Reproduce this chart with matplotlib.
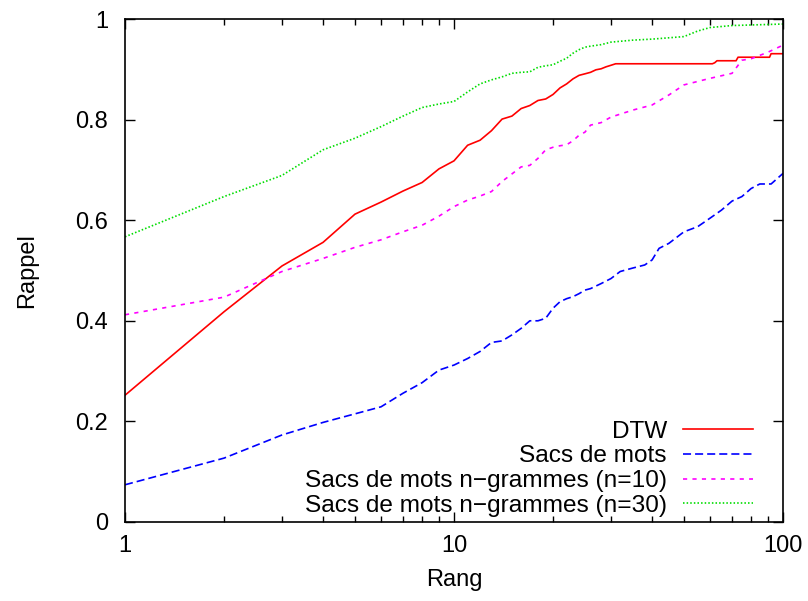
import matplotlib
matplotlib.use("Agg")
import matplotlib.pyplot as plt
from matplotlib.ticker import FixedLocator, LogLocator, NullFormatter

plt.rcParams['font.family'] = ['Liberation Sans', 'DejaVu Sans']
plt.rcParams['lines.scale_dashes'] = False

# DTW
dtw_rank = [1, 2, 3, 4, 5, 6, 7, 8, 9, 10, 11, 12, 13, 14, 15, 16, 17, 18, 19, 20,
            21, 22, 23, 24, 25, 26, 27, 28, 29, 30, 31, 61, 62, 63, 72, 73, 91, 92, 100]
dtw_val = [0.252, 0.418, 0.509, 0.556, 0.612, 0.636, 0.658, 0.675, 0.702, 0.718,
           0.749, 0.759, 0.778, 0.801, 0.807, 0.822, 0.828, 0.838, 0.841, 0.850,
           0.863, 0.871, 0.881, 0.888, 0.891, 0.894, 0.899, 0.901, 0.905, 0.908,
           0.911, 0.911, 0.913, 0.917, 0.917, 0.924, 0.924, 0.931, 0.931]

# Sacs de mots
bow_rank = [1, 2, 3, 4, 5, 6, 7, 8, 9, 10, 11, 12, 13, 14, 15, 16, 17, 18, 19, 20,
            21, 22, 23, 24, 25, 26, 28, 30, 32, 35, 38, 40, 42, 45, 50, 55, 60, 65,
            70, 75, 80, 85, 92, 100]
bow_val = [0.074, 0.127, 0.173, 0.198, 0.215, 0.229, 0.256, 0.277, 0.302, 0.312,
           0.325, 0.339, 0.357, 0.360, 0.372, 0.385, 0.400, 0.400, 0.405, 0.425,
           0.438, 0.444, 0.448, 0.454, 0.461, 0.464, 0.474, 0.484, 0.498, 0.505,
           0.511, 0.521, 0.544, 0.554, 0.577, 0.587, 0.604, 0.620, 0.638, 0.647,
           0.663, 0.672, 0.672, 0.693]

# Sacs de mots n-grammes (n=10)
ng10_rank = [1, 2, 3, 4, 5, 6, 7, 8, 9, 10, 11, 12, 13, 14, 15, 16, 17, 18, 19, 20,
             21, 22, 23, 24, 25, 26, 28, 30, 35, 40, 45, 50, 60, 70, 75, 80, 90, 100]
ng10_val = [0.412, 0.447, 0.498, 0.524, 0.546, 0.561, 0.577, 0.590, 0.608, 0.627,
            0.640, 0.648, 0.657, 0.677, 0.692, 0.706, 0.709, 0.723, 0.740, 0.745,
            0.748, 0.750, 0.758, 0.769, 0.775, 0.789, 0.794, 0.805, 0.819, 0.829,
            0.849, 0.869, 0.882, 0.892, 0.918, 0.921, 0.934, 0.948]

# Sacs de mots n-grammes (n=30)
ng30_rank = [1, 2, 3, 4, 5, 6, 7, 8, 9, 10, 11, 12, 13, 14, 15, 16, 17, 18, 19, 20,
             21, 22, 23, 24, 25, 26, 28, 30, 35, 40, 50, 55, 60, 70, 100]
ng30_val = [0.567, 0.647, 0.689, 0.740, 0.763, 0.786, 0.807, 0.824, 0.831, 0.836,
            0.855, 0.871, 0.879, 0.885, 0.892, 0.894, 0.895, 0.904, 0.907, 0.909,
            0.916, 0.922, 0.932, 0.939, 0.944, 0.946, 0.949, 0.954, 0.958, 0.960,
            0.965, 0.976, 0.983, 0.987, 0.990]

labels = ["DTW", "Sacs de mots", "Sacs de mots n\u2212grammes (n=10)",
          "Sacs de mots n\u2212grammes (n=30)"]
y_ticks = [0, 0.2, 0.4, 0.6, 0.8, 1]
y_tick_labels = ["0", "0.2", "0.4", "0.6", "0.8", "1"]
x_ticks = [1, 10, 100]
x_tick_labels = ["1", "10", "100"]

FS = 17

fig = plt.figure(figsize=(8.08, 6.01), dpi=100)
ax = fig.add_axes([125 / 808, 79 / 601, 658 / 808, 503 / 601])

lw = 1.2
ax.plot(dtw_rank, dtw_val, color='#ff0000', lw=lw, label=labels[0])
ax.plot(bow_rank, bow_val, color='#0000ff', lw=lw, dashes=(5.8, 2.9), label=labels[1])
ax.plot(ng10_rank, ng10_val, color='#ff00ff', lw=lw, dashes=(3.0, 3.8), label=labels[2])
ax.plot(ng30_rank, ng30_val, color='#00dd00', lw=lw, dashes=(1.1, 1.5), label=labels[3])

ax.set_xscale('log')
ax.set_xlim(1, 100)
ax.set_ylim(0, 1)
ax.xaxis.set_major_locator(FixedLocator(x_ticks))
ax.set_xticklabels(x_tick_labels)
ax.xaxis.set_minor_locator(LogLocator(base=10, subs=range(2, 10)))
ax.xaxis.set_minor_formatter(NullFormatter())
ax.set_yticks(y_ticks)
ax.set_yticklabels(y_tick_labels)

ax.tick_params(which='both', direction='in', top=True, right=True, labelsize=FS,
               width=1.0, colors='black')
ax.tick_params(which='major', length=7)
ax.tick_params(which='minor', length=4)
ax.tick_params(axis='y', pad=12)
ax.tick_params(axis='x', pad=9)
for s in ax.spines.values():
    s.set_linewidth(1.2)

ax.set_xlabel("Rang", fontsize=FS, labelpad=9)
ax.set_ylabel("Rappel", fontsize=FS, labelpad=27)

leg = ax.legend(loc='lower right', bbox_to_anchor=(0.9544, 0.010), frameon=False,
                markerfirst=False, fontsize=17.6, handlelength=2.86, handletextpad=0.66,
                labelspacing=0.11, borderpad=0.0, borderaxespad=0.0)

fig.savefig("out.png", dpi=100)
